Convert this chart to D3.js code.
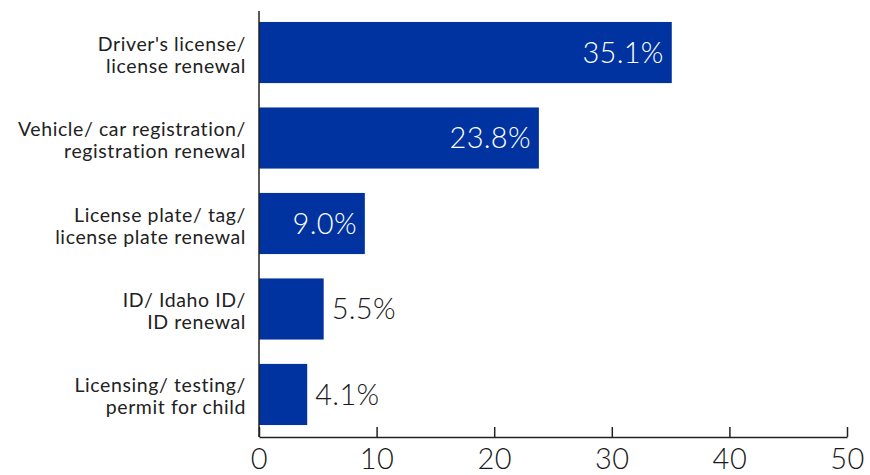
<!DOCTYPE html>
<html>
<head>
<meta charset="utf-8">
<script src="https://cdn.jsdelivr.net/npm/d3@7/dist/d3.min.js"></script>
<style>
  html, body { margin: 0; padding: 0; background: #fff; }
  svg { display: block; font-family: Lato, "Open Sans", sans-serif; }
</style>
</head>
<body>
<svg id="chart" width="870" height="475"></svg>
<script>
// Reasons for DMV visits, share of respondents (%)
const categories = [
  ["Driver's license/", "license renewal"],
  ["Vehicle/ car registration/", "registration renewal"],
  ["License plate/ tag/", "license plate renewal"],
  ["ID/ Idaho ID/", "ID renewal"],
  ["Licensing/ testing/", "permit for child"]
];
const values = [35.1, 23.8, 9.0, 5.5, 4.1];
const xTicks = [0, 10, 20, 30, 40, 50];

const svg = d3.select("#chart");
const x0 = 259, x1 = 847, yTop = 10, yBottom = 437;

const x = d3.scaleLinear().domain([0, 50]).range([x0, x1]);
const y = d3.scaleBand()
  .domain(d3.range(values.length))
  .range([yTop, yBottom])
  .paddingInner(0.285)
  .paddingOuter(0.14);

const barColor = "#0033a0";

// bars
svg.append("g").selectAll("rect")
  .data(values)
  .join("rect")
  .attr("x", x(0))
  .attr("y", (d, i) => y(i))
  .attr("width", d => x(d) - x(0))
  .attr("height", y.bandwidth())
  .attr("fill", barColor);

// value labels: inside the bar when there is room, otherwise just past its end
svg.append("g").selectAll("text")
  .data(values)
  .join("text")
  .attr("x", d => d > 8 ? x(d) - 8 : x(d) + 8)
  .attr("y", (d, i) => y(i) + y.bandwidth() / 2)
  .attr("dy", "0.36em")
  .attr("text-anchor", d => d > 8 ? "end" : "start")
  .attr("fill", d => d > 8 ? "#fff" : "#1a1a1a")
  .style("font-size", "29px")
  .style("font-weight", 300)
  .style("letter-spacing", "0.3px")
  .text(d => d.toFixed(1) + "%");

// category labels (two lines each)
const cat = svg.append("g").selectAll("text")
  .data(categories)
  .join("text")
  .attr("text-anchor", "end")
  .attr("fill", "#222")
  .style("font-size", "19.5px")
  .style("letter-spacing", "0.6px");
cat.each(function(lines, i) {
  const t = d3.select(this);
  const cy = y(i) + y.bandwidth() / 2;
  lines.forEach((ln, k) => {
    t.append("tspan")
      .attr("x", 246)
      .attr("y", cy - 2 + k * 22)
      .text(ln);
  });
});

// x axis with inward ticks
const xAxis = svg.append("g")
  .attr("transform", `translate(0,${yBottom})`)
  .call(d3.axisBottom(x).tickValues(xTicks).tickSize(-10).tickPadding(11).tickSizeOuter(0));
xAxis.select(".domain").attr("stroke", "#222").attr("stroke-width", 1.5);
xAxis.selectAll(".tick line").attr("stroke", "#222").attr("stroke-width", 1.5);
xAxis.selectAll(".tick text")
  .attr("fill", "#1a1a1a")
  .style("font-size", "29px")
  .style("font-family", "Lato, 'Open Sans', sans-serif")
  .style("font-weight", 300)
  .style("letter-spacing", "0.5px");

// y axis line
svg.append("line")
  .attr("x1", x0).attr("x2", x0)
  .attr("y1", 11).attr("y2", yBottom)
  .attr("stroke", "#222").attr("stroke-width", 1.5);
</script>
</body>
</html>
